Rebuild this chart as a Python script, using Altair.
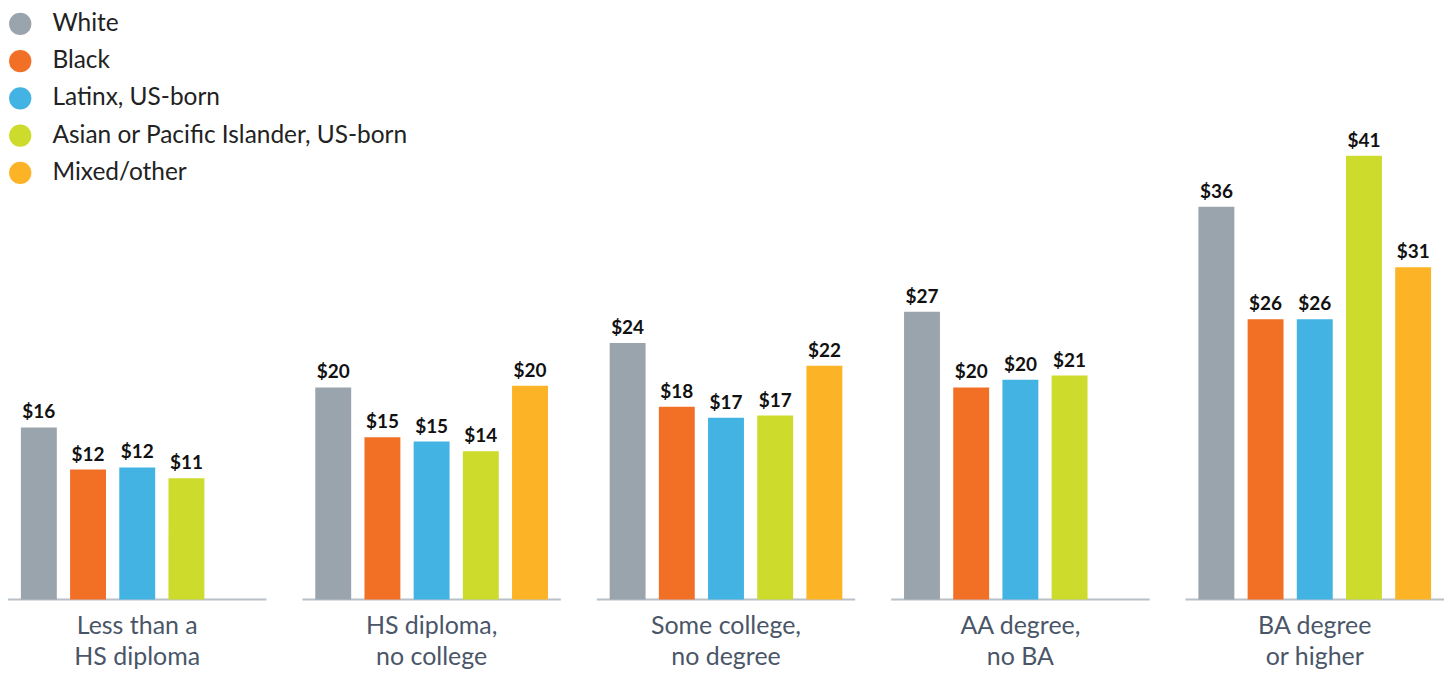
import altair as alt
import pandas as pd

education = [
    "Less than a\nHS diploma",
    "HS diploma,\nno college",
    "Some college,\nno degree",
    "AA degree,\nno BA",
    "BA degree\nor higher",
]
races = [
    "White",
    "Black",
    "Latinx, US-born",
    "Asian or Pacific Islander, US-born",
    "Mixed/other",
]
colors = ["#9aa4ac", "#f26f26", "#43b3e3", "#cddc2c", "#fcb426"]

# hourly wage values per education group (order of races), None = not shown
white = [15.9, 19.6, 23.7, 26.6, 36.3]
black = [12.0, 15.0, 17.8, 19.6, 25.9]
latinx = [12.2, 14.6, 16.8, 20.3, 25.9]
asian = [11.2, 13.7, 17.0, 20.7, 41.0]
mixed = [None, 19.75, 21.6, None, 30.7]

white_lbl = ["$16", "$20", "$24", "$27", "$36"]
black_lbl = ["$12", "$15", "$18", "$20", "$26"]
latinx_lbl = ["$12", "$15", "$17", "$20", "$26"]
asian_lbl = ["$11", "$14", "$17", "$21", "$41"]
mixed_lbl = [None, "$20", "$22", None, "$31"]

series = [
    (white, white_lbl),
    (black, black_lbl),
    (latinx, latinx_lbl),
    (asian, asian_lbl),
    (mixed, mixed_lbl),
]

rows = []
for r, (vals, lbls) in zip(races, series):
    for e, v, l in zip(education, vals, lbls):
        if v is not None:
            rows.append({"edu": e, "race": r, "value": v, "label": l})
df = pd.DataFrame(rows)
base_df = pd.DataFrame({"edu": education, "zero": [0] * len(education)})

FONT = "Lato"

x_scale = alt.Scale(domain=education, paddingInner=0.122, paddingOuter=0)
x_axis = alt.Axis(
    title=None,
    domain=False,
    ticks=False,
    labelAngle=0,
    labelAlign="center",
    labelBaseline="top",
    labelFont=FONT,
    labelFontSize=25,
    labelColor="#4a5668",
    labelPadding=14,
    labelLineHeight=31,
    labelLimit=400,
    labelExpr="split(datum.label, '\\n')",
)
x_enc = alt.X("edu:N", sort=education, scale=x_scale, axis=x_axis)
xo_enc = alt.XOffset(
    "race:N",
    scale=alt.Scale(domain=races, paddingInner=0.27, paddingOuter=0.262),
)
y_scale = alt.Scale(domain=[0, 54.6], nice=False, zero=True)

baseline = (
    alt.Chart(base_df)
    .mark_tick(color="#9aa6b0", thickness=2, size=259)
    .encode(x=alt.X("edu:N", sort=education, scale=x_scale, axis=x_axis),
            y=alt.Y("zero:Q", scale=y_scale, axis=None))
)

bars = (
    alt.Chart(df)
    .mark_bar()
    .encode(
        x=x_enc,
        xOffset=xo_enc,
        y=alt.Y("value:Q", scale=y_scale, axis=None),
        color=alt.Color(
            "race:N",
            scale=alt.Scale(domain=races, range=colors),
            legend=alt.Legend(
                title=None,
                orient="none",
                legendX=0,
                legendY=3,
                padding=0,
                symbolType="circle",
                symbolSize=500,
                symbolStrokeWidth=0,
                symbolOpacity=1,
                labelFont=FONT,
                labelFontSize=24.5,
                labelColor="#222222",
                labelOffset=20,
                labelLimit=600,
                rowPadding=12.3,
            ),
        ),
    )
)

labels = (
    alt.Chart(df)
    .mark_text(font=FONT, fontSize=19, fontWeight="bold", color="#111111", baseline="alphabetic", dy=-9)
    .encode(
        x=x_enc,
        xOffset=xo_enc,
        y=alt.Y("value:Q", scale=y_scale, axis=None),
        text="label:N",
    )
)

chart = (
    alt.layer(baseline, bars, labels)
    .properties(width=1439, height=592, padding=0)
    .configure_view(stroke=None)
)

chart.save("out.html", embed_options={"renderer": "svg", "actions": False})
